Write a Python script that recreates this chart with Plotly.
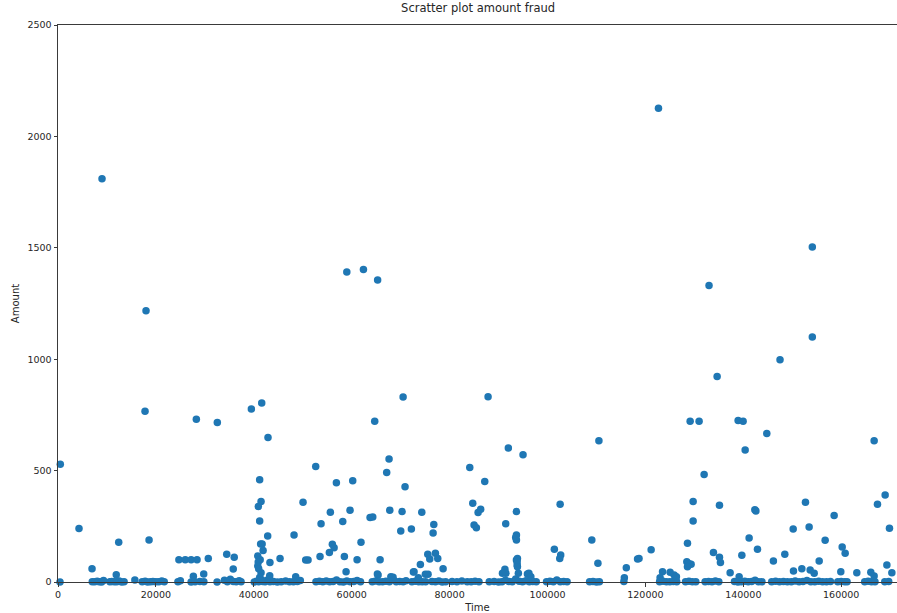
import plotly.graph_objects as go

# ---- data (Time in seconds, Amount) ----
# points well above the axis
time_mid = [472, 4290, 6950, 8990, 11900, 12400, 17780, 17980, 18600,
            24700, 26000, 27200, 28400, 30700, 27650, 29770, 28260, 32550,
            34470, 36000, 35800, 39500, 41620, 42900, 41200, 41480, 40930,
            41200, 42840, 48220, 41400, 41700, 41900, 40800, 41300, 40900,
            43300, 45360, 40800, 41480, 43250, 41000, 41200, 41600,
            52650, 67630, 67150, 56870, 60210, 70900, 84120, 50060, 84730,
            85820, 86350, 55640, 59660, 67780, 70290, 74320, 63750, 64300,
            53740, 58170, 76770, 76630, 70020, 72190, 85000, 85470,
            61900, 56050, 56400, 55440, 58500, 53530, 50600, 51080, 61100,
            65800, 75540, 77100, 75950, 77580, 74030, 78670, 72600, 75050,
            75600, 58850, 65390, 68450, 64700, 70500, 87860, 59000, 62400,
            65300, 92000, 95000, 87180, 93650, 91470, 93650, 93650, 93500,
            93650, 93800, 93860, 93800, 93860, 101400, 102700, 102500,
            102580, 109050, 110500, 110300, 91300, 91500, 90800, 94050,
            95900, 96200, 96600, 72740, 73620, 65250, 48560, 68000,
            116100, 115700, 118400, 118700, 121170, 122670, 123500, 125050,
            125870, 126340, 123000, 128600, 128460, 128930, 129340, 128600,
            129140, 130970, 138940, 139960, 144800, 140380, 132000, 129750,
            129750, 135130, 142360, 142570, 133000, 134650, 147500, 154100,
            154100, 166730, 168980, 167410, 169860, 152700, 153450, 158560,
            150190, 156720, 160200, 160810, 148480, 141190, 142900, 133900,
            135130, 135330, 139700, 146150, 155500, 151960, 150250, 153660,
            154480, 159920, 163190, 166050, 166730, 169330, 170350, 137310,
            139150]
amount_mid = [529, 239.9, 59, 1809.7, 33, 178, 766, 1218, 189,
              100, 100, 100, 100, 106, 26, 36, 731, 716,
              124, 111, 58, 776, 803, 649, 459, 361, 339,
              274, 207, 211, 171, 171, 141, 117, 100, 90,
              87, 106, 72, 42, 28, 60, 20, 10,
              518, 552, 491, 446, 454, 427, 514, 358, 354,
              312, 327, 313, 322, 322, 316, 313, 289, 292,
              262, 271, 258, 220, 229, 238, 256, 244,
              178, 169, 154, 132, 114, 114, 99, 99, 100,
              100, 124, 129, 103, 106, 78, 60, 45, 35,
              35, 46, 31, 21, 721, 830, 832, 1391, 1403,
              1356, 601, 571, 451, 316, 261, 211, 189, 200,
              99, 76, 106, 91, 69, 147, 121, 106,
              349, 189, 634, 84, 57, 39, 39, 39,
              36, 39, 24, 46, 19, 36, 24, 24,
              64, 19, 103, 106, 145, 2125.9, 46, 44,
              31, 24, 19, 174, 91, 82, 80, 69,
              721, 721, 725, 721, 667, 592, 482, 361,
              274, 345, 324, 319, 1331, 922, 997, 1504,
              1100, 634, 391, 349, 241, 358, 247, 298,
              238, 187, 157, 129, 124, 198, 147, 132,
              111, 87, 120, 94, 94, 60, 49, 54,
              39, 46, 42, 44, 27, 76, 42, 42,
              24]

# points sitting on (or just above) the zero line
time_low = [406, 7000, 7500, 8000, 8400, 8900, 9300, 10600, 11000, 11500,
            12000, 12500, 13000, 13500, 15700, 17200, 17800, 18300, 18900,
            19400, 20000, 20600, 21200, 21700, 24500, 25000, 27200, 28000,
            29000, 29800, 32500, 34000, 34600, 35200, 35800, 36400, 37000,
            37400, 40100, 40600, 41000, 41400, 41800, 42300, 42800, 43300,
            44000, 44800, 45600, 46500, 47300, 48100, 48900, 49500, 52700,
            53400, 54100, 54800, 55500, 56200, 56900, 57600, 58300, 59000,
            59700, 60400, 61100, 61800, 64200, 64900, 65600, 66300, 67000,
            67700, 68400, 69100, 69800, 70500, 71100, 72300, 73000, 73700,
            74400, 75100, 76400, 77100, 77800, 78500, 79200, 80500, 81500,
            82500, 83600, 84400, 85200, 86000, 88100, 89100, 90000, 90700,
            91400, 92100, 92800, 93500, 94200, 94900, 95600, 96300, 97000,
            97700, 99800, 100500, 101200, 101900, 102600, 103300, 104000,
            108600, 109300, 110000, 110600, 115600, 122900, 123600, 124300,
            125000, 125700, 126400, 128200, 128900, 129600, 130300, 132200,
            132900, 133600, 134300, 135000, 138200, 138900, 139600, 140300,
            141000, 141700, 142400, 143100, 143800, 145800, 146600, 147400,
            148200, 149000, 149800, 150600, 151400, 152200, 153000, 153800,
            154600, 155400, 156200, 157000, 157800, 159300, 160000, 160700,
            161200, 164800, 165500, 166200, 166900, 168900, 169700]
amount_low = [0, 1, 0.8, 3, 1, 0, 7, 1, 2, 0.8,
              1, 5, 0, 1, 9, 1, 3, 0, 1,
              2, 1, 0.8, 4, 1, 1, 6, 0, 1,
              2, 1, 0, 8, 1, 12, 2, 1, 6,
              1, 0, 3, 1, 6, 2, 0.8, 9, 1,
              2, 0, 1, 4, 1, 1, 2, 7, 1,
              3, 0.8, 5, 1, 2, 9, 1, 0, 4,
              1, 2, 7, 1, 1, 5, 1, 0.8, 3,
              1, 11, 1, 2, 1, 6, 1, 3, 1,
              0.8, 1, 2, 1, 5, 0, 1, 2, 1,
              4, 1, 0.8, 3, 1, 1, 2, 0, 1,
              8, 2, 1, 14, 3, 1, 6, 1, 2,
              0.8, 1, 3, 1, 9, 1, 2, 1,
              1, 2, 0, 1, 2, 1, 3, 1,
              0.8, 2, 1, 1, 3, 1, 0.8, 1,
              2, 1, 5, 1, 2, 0, 1, 3,
              1, 2, 8, 1, 0.8, 1, 3, 1,
              2, 1, 0.8, 4, 1, 2, 7, 1,
              1, 3, 1, 0.8, 2, 1, 2, 1,
              1, 1, 3, 1, 0.8, 1, 2]

x_ticks = [0, 20000, 40000, 60000, 80000, 100000, 120000, 140000, 160000]
y_ticks = [0, 500, 1000, 1500, 2000, 2500]

title_text = "Scratter plot amount fraud"
x_label = "Time"
y_label = "Amount"

time_all = time_low + time_mid
amount_all = amount_low + amount_mid

fig = go.Figure()
fig.add_trace(go.Scatter(
    x=time_all, y=amount_all, mode="markers",
    marker=dict(color="#1f77b4", size=7.5, line=dict(width=0)),
    hoverinfo="x+y", showlegend=False, cliponaxis=False,
))

axis_font = dict(family="DejaVu Sans", size=9.5, color="#262626")
fig.update_layout(
    width=897, height=613,
    margin=dict(l=58, r=0, t=25, b=31, autoexpand=False),
    paper_bgcolor="white", plot_bgcolor="white",
    font=dict(family="DejaVu Sans", color="#262626"),
    title=dict(text=title_text, x=0.533, xanchor="center", y=1 - 8 / 613,
               yanchor="middle", font=dict(family="DejaVu Sans", size=11.5, color="#262626")),
)
fig.update_xaxes(
    range=[0, 171400], tickvals=x_ticks, ticktext=[str(v) for v in x_ticks],
    showgrid=False, zeroline=False, automargin=False,
    showline=True, linecolor="#3a3a3a", linewidth=1, mirror=True,
    ticks="outside", ticklen=3.5, tickwidth=0.8, tickcolor="#3a3a3a",
    tickfont=axis_font,
    title=dict(text=x_label, font=dict(family="DejaVu Sans", size=10, color="#262626"), standoff=5),
)
fig.update_yaxes(
    range=[0, 2500], tickvals=y_ticks, ticktext=[str(v) for v in y_ticks],
    showgrid=False, zeroline=False, automargin=False,
    showline=True, linecolor="#3a3a3a", linewidth=1, mirror=False,
    ticks="outside", ticklen=3.5, tickwidth=0.8, tickcolor="#3a3a3a",
    tickfont=axis_font,
    title=dict(text=y_label, font=dict(family="DejaVu Sans", size=10, color="#262626"), standoff=5),
)

fig.write_html(
    "out.html",
    config={"displayModeBar": False},
    post_script="document.body.style.margin='0';document.body.style.overflow='hidden';",
)
